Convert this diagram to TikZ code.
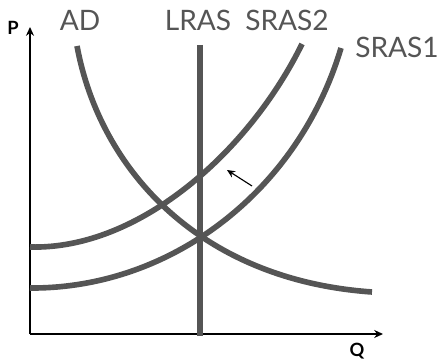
\documentclass[tikz,border=0pt]{standalone}
\usepackage{fontspec}
\setmainfont{Lato}
\usepackage{xcolor}
\usetikzlibrary{arrows.meta,calc}
\definecolor{curvegrey}{HTML}{555555}

\begin{document}
\begin{tikzpicture}[
  x=0.025cm, y=-0.025cm,
  axis/.style={-{Stealth[length=2.2mm,width=2mm]}, line width=1.3pt, black},
  curve/.style={line width=4pt, curvegrey},
  lbl/.style={text=curvegrey, font=\fontsize{20}{20}\selectfont, inner sep=0pt},
  axlbl/.style={font=\bfseries\fontsize{13}{13}\selectfont, inner sep=0pt},
  shiftarr/.style={-{Stealth[length=2mm,width=1.8mm]}, line width=0.8pt, black}
]
\useasboundingbox (0,0) rectangle (440,360);
% axes
\coordinate (o) at (30,334);
\coordinate (ytop) at (30,27);
\coordinate (xend) at (383,334);
\draw[axis] (o) -- (ytop);
\draw[axis] (o) -- (xend);
\node[axlbl] (p) at (13,28) {P};
\node[axlbl] (q) at (357,351) {Q};
% curves
\draw[curve, line width=4.3pt] (200,45) coordinate (lrtop) -- (200,336) coordinate (lrbot);
\draw[curve] (77,46) coordinate (adtop) .. controls (100,170) and (200,280) .. (372,292) coordinate (adend);
\draw[curve] (30,288) coordinate (s1start) .. controls (170,289) and (298,192) .. (341,48) coordinate (s1end);
\draw[curve] (30,247) coordinate (s2start) .. controls (140,250) and (250,150) .. (302,44) coordinate (s2end);
% shift of supply
\coordinate (shfrom) at (252,186);
\coordinate (shto) at (227,170);
\draw[shiftarr] (shfrom) -- (shto);
% labels
\node[lbl] (ad) at (80,20) {AD};
\node[lbl] (lras) at (198,20) {LRAS};
\node[lbl] (sras2) at (287,20) {SRAS2};
\node[lbl] (sras1) at (397,47) {SRAS1};
\end{tikzpicture}
\end{document}
